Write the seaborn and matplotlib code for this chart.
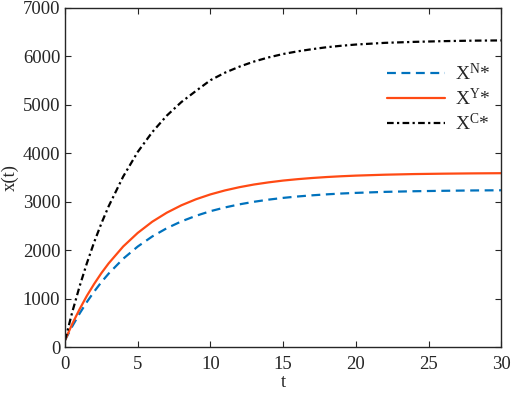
import numpy as np
import pandas as pd
import matplotlib
matplotlib.use("Agg")
import matplotlib.pyplot as plt
import seaborn as sns

# values
t = [0, 0.5, 1, 1.5, 2, 2.5, 3, 4, 5, 6, 7, 8, 9, 10, 11, 12, 13, 14, 15,
     16, 17, 18, 19, 20, 22, 24, 26, 28, 30]
x_n = [150, 438, 699, 937, 1151, 1347, 1523, 1830, 2081, 2289, 2459, 2599,
       2714, 2810, 2887, 2951, 3004, 3048, 3084, 3113, 3137, 3157, 3174,
       3187, 3208, 3221, 3230, 3237, 3241]
x_y = [150, 488, 788, 1064, 1309, 1533, 1734, 2082, 2362, 2593, 2779, 2931,
       3055, 3156, 3238, 3305, 3360, 3404, 3441, 3470, 3494, 3514, 3530,
       3543, 3562, 3575, 3583, 3589, 3593]
x_c = [150, 732, 1258, 1735, 2168, 2558, 2911, 3524, 4031, 4440, 4780, 5059,
       5288, 5510, 5665, 5790, 5895, 5980, 6050, 6105, 6150, 6190, 6220,
       6245, 6280, 6300, 6315, 6325, 6330]
labels = [r'$\mathrm{X}^{\mathrm{N}}$*', r'$\mathrm{X}^{\mathrm{Y}}$*', r'$\mathrm{X}^{\mathrm{C}}$*']

sns.set_style("ticks")
plt.rcParams['font.family'] = ['Liberation Serif', 'DejaVu Serif']
plt.rcParams['mathtext.fontset'] = 'custom'
plt.rcParams['mathtext.rm'] = 'Liberation Serif'
plt.rcParams['mathtext.it'] = 'Liberation Serif:italic'

fig = plt.figure(figsize=(5.12, 3.96), dpi=100)
ax = fig.add_axes([0.127, 0.1225, 0.852, 0.8575])

sns.lineplot(x=t, y=x_n, ax=ax, color='#0072BD', linestyle=(0, (4, 2.5)),
             linewidth=1.6, label=labels[0])
sns.lineplot(x=t, y=x_y, ax=ax, color='#FF4A14', linestyle='-',
             linewidth=1.6, label=labels[1])
sns.lineplot(x=t, y=x_c, ax=ax, color='black', linestyle=(0, (3, 1.5, 1, 1.5)),
             linewidth=1.6, label=labels[2])

ax.set_xlim(0, 30)
ax.set_ylim(0, 7000)
ax.set_xticks(range(0, 31, 5))
ax.set_yticks(range(0, 7001, 1000))
ax.tick_params(direction='in', top=True, right=True, labelsize=13.5, length=4.5)
ax.tick_params(axis='x', pad=6)
for s in ax.spines.values():
    s.set_linewidth(1.0)
    s.set_visible(True)
ax.set_xlabel('t', fontsize=13.5, labelpad=1)
ax.set_ylabel('x(t)', fontsize=13.5, labelpad=3)

ax.legend(loc='upper right', bbox_to_anchor=(1.015, 0.89), frameon=False,
          fontsize=14, handlelength=3.0, handletextpad=0.5, labelspacing=0.2)

fig.savefig('out.png', dpi=100)
